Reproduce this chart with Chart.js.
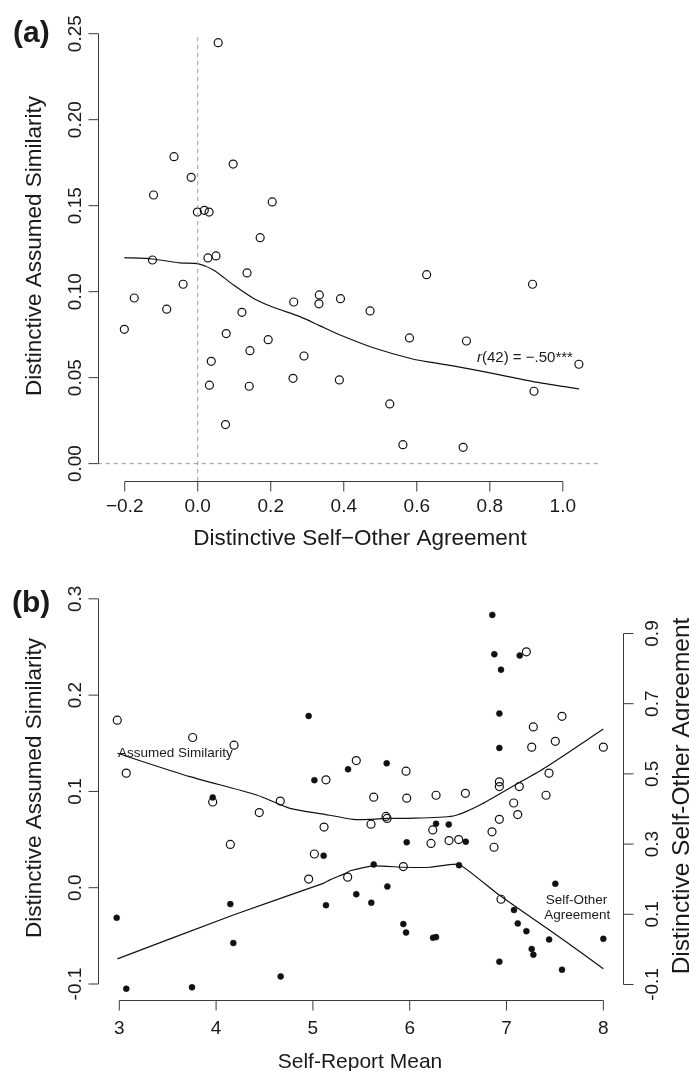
<!DOCTYPE html>
<html>
<head>
<meta charset="utf-8">
<script src="https://cdn.jsdelivr.net/npm/chart.js@4.4.1/dist/chart.umd.min.js"></script>
<style>
  html, body { margin: 0; padding: 0; background: #fff; }
  #wrap { position: relative; width: 689px; height: 1071px; }
  canvas { position: absolute; left: 0; }
  #chartA { top: 0; }
  #chartB { top: 560px; }
</style>
</head>
<body>
<div id="wrap">
  <canvas id="chartA" width="689" height="560"></canvas>
  <canvas id="chartB" width="689" height="511"></canvas>
</div>
<script>
// ---- panel (a): distinctive agreement vs distinctive assumed similarity
const aAgreeX = [0.056, -0.065, -0.018, 0.097, -0.121, 0.204, -0.001, 0.018, 0.031, 0.171,
  -0.124, 0.028, 0.050, 0.135, -0.040, -0.174, -0.085, -0.201, 0.121, 0.078,
  0.193, 0.143, 0.037, 0.291, 0.032, 0.141, 0.261, 0.388, 0.076, 0.263,
  0.333, 0.332, 0.391, 0.627, 0.917, 0.472, 0.580, 0.736, 1.044, 0.921,
  0.526, 0.562, 0.727];
const aSimY = [0.2448, 0.1785, 0.1665, 0.1742, 0.1562, 0.1522, 0.1463, 0.1473, 0.1463, 0.1314,
  0.1184, 0.1196, 0.1208, 0.1109, 0.1043, 0.0963, 0.0898, 0.0781, 0.0880, 0.0756,
  0.0721, 0.0657, 0.0595, 0.0626, 0.0456, 0.0450, 0.0496, 0.0487, 0.0227, 0.0940,
  0.0981, 0.0929, 0.0959, 0.1099, 0.1043, 0.0888, 0.0731, 0.0713, 0.0578, 0.0421,
  0.0347, 0.0110, 0.0095];
// lowess curve
const aFitX = [-0.201, -0.124, -0.048, 0.000, 0.043, 0.098, 0.152, 0.207, 0.280, 0.335,
  0.390, 0.481, 0.591, 0.645, 0.710, 0.828, 0.919, 1.045];
const aFitY = [0.1198, 0.1190, 0.1167, 0.1163, 0.1126, 0.1039, 0.0962, 0.0909, 0.0855, 0.0801,
  0.0748, 0.0674, 0.0607, 0.0587, 0.0564, 0.0516, 0.0477, 0.0434];
const aTicksX = [-0.2, 0, 0.2, 0.4, 0.6, 0.8, 1.0];
const aTickLabelsX = ['\u22120.2', '0.0', '0.2', '0.4', '0.6', '0.8', '1.0'];
const aTicksY = [0, 0.05, 0.10, 0.15, 0.20, 0.25];
const aTickLabelsY = ['0.00', '0.05', '0.10', '0.15', '0.20', '0.25'];

// ---- panel (b): self-report mean
const bSimX = [2.979, 3.072, 3.758, 3.965, 4.147, 4.185, 4.446, 4.663, 4.956, 5.015,
  5.115, 5.135, 5.359, 5.448, 5.600, 5.628, 5.755, 5.766, 5.934, 5.962,
  5.969, 6.220, 6.238, 6.272, 6.406, 6.506, 6.575, 6.850, 6.871, 6.926,
  6.926, 6.926, 6.943, 7.074, 7.116, 7.132, 7.205, 7.260, 7.277, 7.408,
  7.439, 7.504, 7.573, 8.000];
const bSimY = [0.174, 0.119, 0.156, 0.089, 0.045, 0.148, 0.078, 0.090, 0.009, 0.035,
  0.063, 0.112, 0.011, 0.132, 0.066, 0.094, 0.074, 0.072, 0.022, 0.121,
  0.093, 0.046, 0.060, 0.096, 0.049, 0.050, 0.098, 0.058, 0.042, 0.071,
  0.105, 0.110, -0.012, 0.088, 0.076, 0.105, 0.245, 0.146, 0.167, 0.096,
  0.119, 0.152, 0.178, 0.146];
const bAgreeX = [2.973, 3.072, 3.751, 3.965, 4.147, 4.178, 4.667, 4.956, 5.015, 5.111,
  5.135, 5.363, 5.448, 5.603, 5.628, 5.762, 5.769, 5.934, 5.962, 5.969,
  6.241, 6.272, 6.272, 6.403, 6.509, 6.579, 6.853, 6.874, 6.926, 6.926,
  6.926, 6.943, 7.077, 7.116, 7.136, 7.205, 7.260, 7.277, 7.440, 7.504,
  7.573, 8.000];
const bAgreeY = [0.090, -0.112, -0.108, 0.433, 0.129, 0.018, -0.077, 0.665, 0.482, 0.267,
  0.126, 0.513, 0.157, 0.133, 0.242, 0.530, 0.179, 0.072, 0.048, 0.305,
  0.033, 0.035, 0.358, 0.356, 0.240, 0.307, 0.953, 0.841, 0.672, 0.574,
  -0.035, 0.797, 0.112, 0.074, 0.837, 0.052, 0.001, -0.015, 0.028, 0.187,
  -0.058, 0.030];
const bSimFitX = [2.98, 3.73, 4.419, 4.763, 5.108, 5.417, 5.59, 5.762, 5.934, 6.45, 6.726, 7.07, 7.415, 8.0];
const bSimFitY = [0.1396, 0.1153, 0.0963, 0.0824, 0.0765, 0.0710, 0.0710, 0.0721, 0.0721, 0.0745, 0.0859, 0.1056, 0.1257, 0.1648];
const bAgreeFitX = [2.98, 4.178, 5.107, 5.176, 5.349, 5.383, 5.628, 5.934, 6.21, 6.509, 6.899, 7.244, 7.589, 8.0];
const bAgreeFitY = [-0.027, 0.098, 0.188, 0.198, 0.218, 0.224, 0.238, 0.234, 0.234, 0.242, 0.160, 0.093, 0.027, -0.055];
const bTicksX = [3, 4, 5, 6, 7, 8];
const bTickLabelsX = ['3', '4', '5', '6', '7', '8'];
const bTicksY = [-0.1, 0, 0.1, 0.2, 0.3];
const bTickLabelsY = ['-0.1', '0.0', '0.1', '0.2', '0.3'];
const bTicksY2 = [-0.1, 0.1, 0.3, 0.5, 0.7, 0.9];
const bTickLabelsY2 = ['-0.1', '0.1', '0.3', '0.5', '0.7', '0.9'];

const FONT = '"Liberation Sans", Arial, Helvetica, sans-serif';
const INK = '#1a1a1a';
const AXIS = '#3a3a3a';

const pts = (xs, ys) => xs.map((x, i) => ({ x: x, y: ys[i] }));

function vtext(ctx, str, x, y) {
  ctx.save();
  ctx.translate(x, y);
  ctx.rotate(-Math.PI / 2);
  ctx.textAlign = 'center';
  ctx.textBaseline = 'alphabetic';
  ctx.fillText(str, 0, 0);
  ctx.restore();
}

// R-style axes: line only between first and last tick, outward ticks
const rFrame = {
  id: 'rFrame',
  afterDraw(chart, args, opts) {
    const ctx = chart.ctx;
    const area = chart.chartArea;
    ctx.save();
    ctx.strokeStyle = AXIS;
    ctx.fillStyle = INK;
    ctx.lineWidth = 1;
    opts.axes.forEach(ax => {
      const sc = chart.scales[ax.scale];
      const p = ax.ticks.map(v => sc.getPixelForValue(v));
      ctx.font = ax.size + 'px ' + FONT;
      ctx.beginPath();
      if (ax.side === 'bottom') {
        const y = Math.round(area.bottom) + 0.5;
        ctx.moveTo(p[0], y); ctx.lineTo(p[p.length - 1], y);
        p.forEach(px => { ctx.moveTo(px, y); ctx.lineTo(px, y + 10); });
        ctx.stroke();
        ctx.textAlign = 'center';
        ctx.textBaseline = 'alphabetic';
        p.forEach((px, i) => ctx.fillText(ax.labels[i], px, area.bottom + ax.gap));
      } else {
        const left = ax.side === 'left';
        const x = Math.round(left ? area.left : area.right) + 0.5;
        const d = left ? -10 : 10;
        ctx.moveTo(x, p[0]); ctx.lineTo(x, p[p.length - 1]);
        p.forEach(py => { ctx.moveTo(x, py); ctx.lineTo(x + d, py); });
        ctx.stroke();
        const bx = left ? area.left - ax.gap : area.right + ax.gap;
        p.forEach((py, i) => vtext(ctx, ax.labels[i], bx, py));
      }
    });
    opts.texts.forEach(t => {
      ctx.font = (t.weight || '') + ' ' + t.size + 'px ' + FONT;
      if (t.vertical) {
        vtext(ctx, t.text, t.x, t.y);
      } else {
        ctx.textAlign = t.align || 'left';
        ctx.textBaseline = 'alphabetic';
        if (t.lead) {
          // italic lead letter, e.g. r(42)
          ctx.font = 'italic ' + t.size + 'px ' + FONT;
          ctx.textAlign = 'left';
          ctx.fillText(t.lead, t.x, t.y);
          const w = ctx.measureText(t.lead).width;
          ctx.font = t.size + 'px ' + FONT;
          ctx.fillText(t.text, t.x + w, t.y);
        } else {
          ctx.fillText(t.text, t.x, t.y);
        }
      }
    });
    ctx.restore();
  }
};

const openPt = {
  pointStyle: 'circle', pointRadius: 4, pointBorderWidth: 1.2,
  pointBorderColor: '#111', pointBackgroundColor: 'rgba(0,0,0,0)', showLine: false
};
const fitLine = {
  showLine: true, pointRadius: 0, borderColor: '#111', borderWidth: 1.2, tension: 0.25, fill: false
};
const hidden = { display: false };

// ---------- chart (a)
const aXMin = -0.274, aXMax = 1.164, aYMin = -0.0101, aYMax = 0.26;
new Chart(document.getElementById('chartA'), {
  type: 'scatter',
  data: {
    datasets: [
      { data: [{ x: 0, y: aYMin }, { x: 0, y: 0.248 }], showLine: true, pointRadius: 0,
        borderColor: '#9a9a9a', borderWidth: 1, borderDash: [4, 4] },
      { data: [{ x: aXMin, y: 0 }, { x: 1.097, y: 0 }], showLine: true, pointRadius: 0,
        borderColor: '#9a9a9a', borderWidth: 1, borderDash: [4, 4] },
      Object.assign({ data: pts(aFitX, aFitY) }, fitLine),
      Object.assign({ data: pts(aAgreeX, aSimY) }, openPt)
    ]
  },
  options: {
    responsive: false,
    animation: false,
    layout: { padding: { left: 97.7, right: 66.3, top: 16.5, bottom: 79 } },
    scales: {
      x: Object.assign({ type: 'linear', min: aXMin, max: aXMax }, hidden),
      y: Object.assign({ type: 'linear', min: aYMin, max: aYMax }, hidden)
    },
    plugins: {
      legend: { display: false },
      tooltip: { enabled: false },
      rFrame: {
        axes: [
          { scale: 'x', side: 'bottom', ticks: aTicksX, labels: aTickLabelsX, size: 19, gap: 31 },
          { scale: 'y', side: 'left', ticks: aTicksY, labels: aTickLabelsY, size: 19, gap: 17 }
        ],
        texts: [
          { text: '(a)', x: 13, y: 41.5, size: 30, weight: 'bold' },
          { text: 'Distinctive Self\u2212Other Agreement', x: 360, y: 545, size: 22.5, align: 'center' },
          { text: 'Distinctive Assumed Similarity', x: 41, y: 246, size: 22.5, vertical: true },
          { lead: 'r', text: '(42) = \u2212.50***', x: 477, y: 361.5, size: 15 }
        ]
      }
    }
  },
  plugins: [rFrame]
});

// ---------- chart (b)
new Chart(document.getElementById('chartB'), {
  type: 'scatter',
  data: {
    datasets: [
      Object.assign({ data: pts(bSimFitX, bSimFitY), yAxisID: 'y' }, fitLine),
      Object.assign({ data: pts(bAgreeFitX, bAgreeFitY), yAxisID: 'y2' }, fitLine, { tension: 0.15 }),
      Object.assign({ data: pts(bSimX, bSimY), yAxisID: 'y' }, openPt),
      { data: pts(bAgreeX, bAgreeY), yAxisID: 'y2', pointStyle: 'circle', pointRadius: 3,
        pointBorderWidth: 0.5, pointBorderColor: '#111', pointBackgroundColor: '#111', showLine: false }
    ]
  },
  options: {
    responsive: false,
    animation: false,
    layout: { padding: { left: 97.7, right: 66.3, top: 24, bottom: 71 } },
    scales: {
      x: Object.assign({ type: 'linear', min: 2.777, max: 8.2 }, hidden),
      y: Object.assign({ type: 'linear', position: 'left', min: -0.1166, max: 0.3154 }, hidden),
      y2: Object.assign({ type: 'linear', position: 'right', min: -0.1442, max: 1.041 }, hidden)
    },
    plugins: {
      legend: { display: false },
      tooltip: { enabled: false },
      rFrame: {
        axes: [
          { scale: 'x', side: 'bottom', ticks: bTicksX, labels: bTickLabelsX, size: 19, gap: 34 },
          { scale: 'y', side: 'left', ticks: bTicksY, labels: bTickLabelsY, size: 19, gap: 17 },
          { scale: 'y2', side: 'right', ticks: bTicksY2, labels: bTickLabelsY2, size: 19, gap: 35 }
        ],
        texts: [
          { text: '(b)', x: 12, y: 51.7, size: 30, weight: 'bold' },
          { text: 'Self-Report Mean', x: 360, y: 508, size: 21, align: 'center' },
          { text: 'Distinctive Assumed Similarity', x: 41, y: 228, size: 22.5, vertical: true },
          { text: 'Distinctive Self-Other Agreement', x: 689, y: 236, size: 24.5, vertical: true },
          { text: 'Assumed Similarity', x: 118, y: 196.7, size: 13.5 },
          { text: 'Self-Other', x: 545.7, y: 344.3, size: 13.5 },
          { text: 'Agreement', x: 544.3, y: 359.3, size: 13.5 }
        ]
      }
    }
  },
  plugins: [rFrame]
});
</script>
</body>
</html>
